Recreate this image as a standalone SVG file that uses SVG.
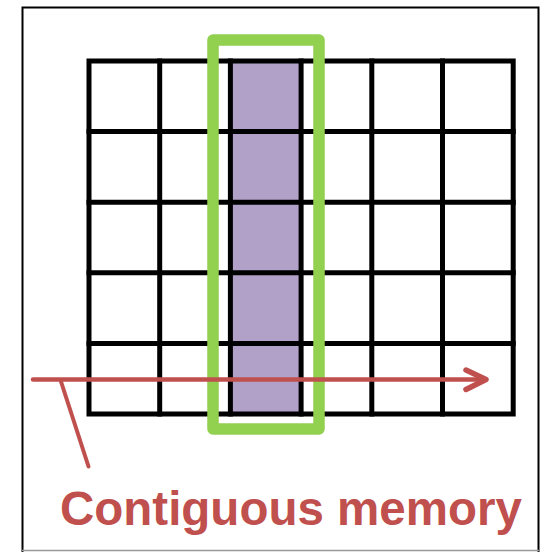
<svg xmlns="http://www.w3.org/2000/svg" width="542" height="552" viewBox="0 0 542 552">
<style>
.grid{stroke:#000;stroke-width:5;fill:none;stroke-linecap:square}
.red{stroke:#c0504d;fill:none;stroke-linecap:round;stroke-linejoin:round}
</style>
<rect width="542" height="552" fill="#fff"/>
<path d="M22.5 552V7.5H538.5V552" stroke="#000" stroke-width="2" fill="none"/>
<line x1="22" y1="550.5" x2="539" y2="550.5" stroke="#999" stroke-width="1.5"/>
<g id="grid">
<rect x="230.4" y="61" width="70.7" height="353" fill="#b1a0c7"/>
<g class="grid">
<rect x="89" y="61" width="424.2" height="353"/>
<line x1="159.7" y1="61" x2="159.7" y2="414"/>
<line x1="230.4" y1="61" x2="230.4" y2="414"/>
<line x1="301.1" y1="61" x2="301.1" y2="414"/>
<line x1="371.8" y1="61" x2="371.8" y2="414"/>
<line x1="442.5" y1="61" x2="442.5" y2="414"/>
<line x1="89" y1="131.6" x2="513.2" y2="131.6"/>
<line x1="89" y1="202.2" x2="513.2" y2="202.2"/>
<line x1="89" y1="272.8" x2="513.2" y2="272.8"/>
<line x1="89" y1="343.4" x2="513.2" y2="343.4"/>
</g>
</g>
<g id="highlight">
<rect x="213" y="40" width="106" height="389" fill="none" stroke="#92d050" stroke-width="11.5" stroke-linejoin="round"/>
</g>
<g id="connectors">
<line class="red" x1="33" y1="379.5" x2="485" y2="379.5" stroke-width="4.5"/>
<polyline class="red" points="466,370 486,379.5 466,389.5" stroke-width="5.5"/>
<line class="red" x1="60.5" y1="380" x2="88.5" y2="466.5" stroke-width="4"/>
</g>
<g id="label">
<text x="60" y="525" font-family="'Liberation Sans', Arial, sans-serif" font-weight="bold" font-size="47.5" fill="#c0504d">Contiguous memory</text>
</g>
</svg>
